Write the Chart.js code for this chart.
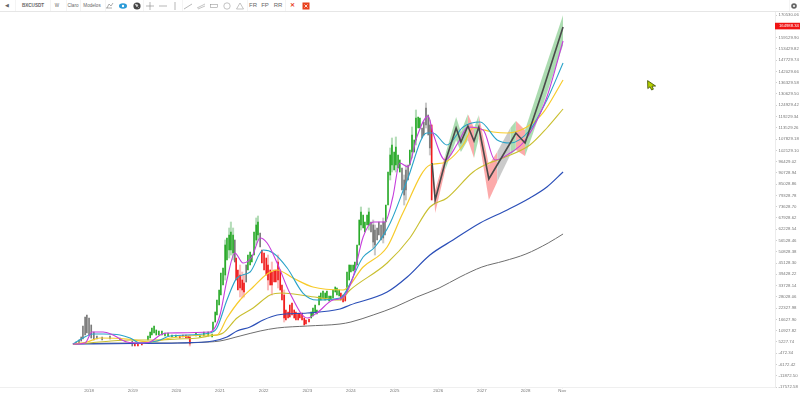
<!DOCTYPE html>
<html>
<head>
<meta charset="utf-8">
<title>BXCUSDT</title>
<script src="https://cdn.jsdelivr.net/npm/chart.js@4"></script>
<style>
  html, body { margin: 0; padding: 0; background: #fff; width: 800px; height: 394px; overflow: hidden; }
  #stage { position: relative; width: 800px; height: 394px; font-family: "Liberation Sans", Arial, sans-serif; }
  canvas { position: absolute; left: 0; top: 0; }
  #bar { position: absolute; left: 0; top: 0; width: 800px; height: 11px; border-bottom: 1px solid #e6e6e6; background: #fff; }
  #bar span, #bar svg { position: absolute; top: 0; line-height: 11px; white-space: nowrap; transform: translateX(-50%); color: #666; }
  #bar i { position: absolute; top: 0; width: 1px; height: 11px; background: #f4f4f4; }
  #cursor { position: absolute; left: 647px; top: 80px; }
</style>
</head>
<body>
<div id="stage">
  <canvas id="priceChart" width="800" height="394"></canvas>
  <div id="bar"></div>
  <svg id="cursor" width="10" height="11" viewBox="0 0 10 11">
    <path d="M0.6 0.6 L0.8 8.6 L3 6.8 L4.6 10 L6.4 9.2 L5 6.2 L8.6 6 Z" fill="#b4d000" stroke="#3c4a00" stroke-width="0.8"/>
  </svg>
</div>

<script>
// axis labels
const priceTicks = [-17572.58, -11872.50, -6172.42, -472.34, 5227.74, 10927.82, 16627.90, 22327.98, 28028.06,
  33728.14, 39428.22, 45128.30, 50828.38, 56528.46, 62228.54, 67928.62, 73628.70, 79328.78, 85028.86, 90728.94,
  96429.02, 102129.10, 107829.18, 113529.26, 119229.34, 124929.42, 130629.50, 136329.58, 142029.66, 147729.74,
  153429.82, 159129.90, 164829.98, 170530.06];
const yearTicks = [2018, 2019, 2020, 2021, 2022, 2023, 2024, 2025, 2026, 2027, 2028, 2028.84];
const yearLabels = ['2018', '2019', '2020', '2021', '2022', '2023', '2024', '2025', '2026', '2027', '2028', 'Nov'];
const lastPrice = 164988.34;

// moving averages
const grayYears = [2017.63, 2018.00, 2019.01, 2020.02, 2020.75, 2021.00, 2021.46, 2021.92, 2022.31, 2023.00, 2023.75, 2024.00, 2024.51, 2025.01, 2025.51, 2026.02, 2026.50, 2027.00, 2027.51, 2028.01, 2028.52, 2028.86];
const grayValues = [4170, 4430, 4680, 4680, 5190, 5700, 8220, 10750, 12270, 13280, 14290, 15300, 18850, 22890, 27950, 32480, 38080, 43100, 46160, 49700, 55260, 59820];

const blueYears = [2017.63, 2019.01, 2020.02, 2020.84, 2021.16, 2021.39, 2021.69, 2021.99, 2022.31, 2023.00, 2023.75, 2023.98, 2024.83, 2025.29, 2025.81, 2026.34, 2026.96, 2027.58, 2028.10, 2028.49, 2028.86];
const blueValues = [4170, 4430, 4680, 5690, 7720, 10750, 12770, 16320, 18850, 19860, 21880, 23900, 30480, 38070, 49190, 56780, 65380, 71960, 78030, 83590, 91170];

const oliveYears = [2017.63, 2018.00, 2018.50, 2019.01, 2019.51, 2020.02, 2020.50, 2020.75, 2021.07, 2021.39, 2021.76, 2022.15, 2022.42, 2023.00, 2023.75, 2023.98, 2024.83, 2025.35, 2025.81, 2026.20, 2026.80, 2027.12, 2027.48, 2028.10, 2028.49, 2028.86];
const oliveValues = [4170, 4680, 5690, 6200, 6200, 6710, 7210, 8220, 9740, 17330, 22390, 28960, 29970, 28450, 26430, 31490, 45150, 57790, 73470, 78030, 91170, 95220, 98260, 104830, 113430, 123040];

const yellowYears = [2017.63, 2017.95, 2018.25, 2018.87, 2019.40, 2019.86, 2020.77, 2020.93, 2021.16, 2021.46, 2021.76, 2022.08, 2022.31, 2022.67, 2023.13, 2023.82, 2024.28, 2024.83, 2025.19, 2025.81, 2026.11, 2026.57, 2026.80, 2027.26, 2027.58, 2028.03, 2028.40, 2028.86];
const yellowValues = [4170, 5190, 7210, 6710, 5190, 7210, 8730, 8730, 17330, 26430, 32990, 39590, 41610, 37560, 33010, 31490, 43120, 53240, 70440, 94720, 95730, 104830, 113430, 111400, 110900, 113930, 121020, 137710];

const cyanYears = [2017.63, 2017.86, 2018.09, 2018.32, 2018.71, 2018.94, 2019.17, 2019.56, 2019.86, 2020.77, 2020.93, 2021.16, 2021.39, 2021.69, 2021.99, 2022.22, 2022.54, 2022.90, 2023.22, 2023.75, 2024.28, 2024.55, 2024.90, 2025.29, 2025.74, 2025.88, 2026.20, 2026.57, 2026.96, 2027.35, 2027.65, 2028.10, 2028.49, 2028.86];
const cyanValues = [4170, 7210, 9240, 9240, 8730, 7210, 4680, 5690, 8220, 9740, 12270, 26430, 37560, 40590, 51720, 50200, 42620, 29970, 26430, 27440, 48180, 53240, 65380, 87130, 110900, 110900, 104830, 113930, 116460, 107360, 105840, 112420, 127590, 146310];

const magentaYears = [2017.63, 2017.91, 2018.07, 2018.32, 2018.55, 2018.87, 2019.17, 2019.40, 2019.63, 2019.79, 2020.77, 2021.00, 2021.16, 2021.34, 2021.53, 2021.73, 2021.92, 2022.08, 2022.31, 2022.60, 2023.00, 2023.22, 2023.59, 2023.80, 2024.05, 2024.28, 2024.51, 2024.78, 2024.96, 2025.12, 2025.31, 2025.51, 2025.77, 2025.88, 2026.16, 2026.45, 2026.68, 2027.03, 2027.30, 2027.65, 2027.94, 2028.17, 2028.49, 2028.86];
const magentaValues = [4170, 4680, 10250, 10250, 8730, 5190, 4680, 5190, 8730, 9740, 10250, 18850, 36550, 50200, 45150, 48180, 57790, 55260, 45150, 29970, 17330, 19860, 26430, 27440, 38070, 58300, 65880, 65880, 78530, 95730, 93700, 108880, 119500, 110900, 97250, 105840, 113930, 112420, 97250, 100780, 105840, 113430, 129110, 157430];

// thick path with its shaded band
const pathYears = [2025.86, 2025.93, 2026.16, 2026.41, 2026.52, 2026.68, 2026.82, 2026.93, 2027.16, 2027.35, 2027.65, 2027.78, 2027.99, 2028.40, 2028.86];
const pathValues = [95730, 77010, 96230, 113430, 106350, 114440, 106850, 113930, 87630, 94720, 105840, 110900, 105840, 132650, 164520];
const bandUpper = [95730, 82070, 99770, 119000, 111410, 120510, 113430, 120000, 94720, 101290, 113430, 116970, 112420, 140240, 170590];
const bandLower = [95730, 70440, 92190, 107360, 101290, 107360, 98260, 108380, 77010, 86120, 99770, 102300, 99270, 125060, 155410];
const bandTones = ['r', 'r', 'g', 'g', 'g', 'r', 'g', 'r', 'r', 'k', 'g', 'r', 'g', 'g'];

// candle bodies
const greenCandleYears = [2019.35, 2019.40, 2019.44, 2019.49, 2019.54, 2019.60, 2019.67, 2019.74, 2019.81, 2019.90, 2019.99, 2020.45, 2020.54, 2020.63, 2020.73, 2020.82, 2020.84, 2020.89, 2020.93, 2020.98, 2021.02, 2021.07, 2021.12, 2021.16, 2021.21, 2021.25, 2021.30, 2021.64, 2021.69, 2021.73, 2021.78, 2021.83, 2021.87, 2023.09, 2023.13, 2023.18, 2023.22, 2023.27, 2023.31, 2023.36, 2023.41, 2023.45, 2023.50, 2023.54, 2023.59, 2023.64, 2023.68, 2023.73, 2023.91, 2023.96, 2024.00, 2024.05, 2024.09, 2024.14, 2024.19, 2024.23, 2024.28, 2024.32, 2024.37, 2024.41, 2024.80, 2024.85, 2024.90, 2024.94, 2024.99, 2025.03, 2025.08, 2025.12, 2025.35, 2025.40, 2025.45, 2025.49, 2025.54, 2025.58];
const greenCandleTop = [8220, 10250, 12270, 13280, 11260, 10750, 10750, 9740, 9740, 8730, 8730, 9740, 8730, 10250, 10250, 9240, 15300, 20360, 26430, 31490, 40090, 42620, 54250, 57790, 59310, 60830, 59310, 49190, 50710, 49190, 60830, 64370, 65880, 20360, 22390, 23900, 21380, 28460, 29970, 30990, 29970, 30990, 28460, 28460, 31490, 33010, 32500, 31490, 40590, 44140, 44140, 44140, 45650, 54250, 66900, 70940, 69430, 65880, 69430, 70940, 74480, 91170, 99770, 104830, 101290, 103820, 99770, 97250, 102300, 109890, 107360, 118490, 118990, 118490];
const greenCandleBottom = [6200, 7210, 8730, 9740, 8730, 8730, 8730, 8220, 8220, 7720, 7720, 8220, 7720, 8220, 8220, 7720, 11260, 15300, 18850, 23900, 28960, 34020, 39080, 46660, 51720, 51720, 50200, 41610, 44140, 45650, 49190, 56780, 59310, 17330, 18340, 20360, 19360, 23900, 26430, 27440, 26430, 27440, 25930, 26430, 27440, 30480, 28960, 28460, 30480, 36550, 40590, 41100, 41610, 44140, 54250, 64370, 62850, 60830, 64370, 64370, 65880, 74480, 89660, 94720, 92190, 94720, 93200, 91170, 94720, 101290, 101290, 107360, 113430, 113430];

const redCandleYears = [2019.05, 2019.12, 2019.21, 2020.08, 2020.15, 2020.22, 2020.27, 2020.31, 2021.37, 2021.41, 2021.46, 2021.51, 2021.55, 2021.96, 2022.01, 2022.06, 2022.10, 2022.15, 2022.19, 2022.24, 2022.28, 2022.33, 2022.38, 2022.42, 2022.47, 2022.51, 2022.56, 2022.60, 2022.65, 2022.70, 2022.74, 2022.79, 2022.83, 2022.88, 2022.93, 2022.97, 2023.04, 2023.77, 2023.82, 2023.87, 2025.85];
const redCandleTop = [4170, 4170, 4170, 8220, 8730, 8730, 8220, 7720, 47670, 41610, 39080, 36550, 35030, 51720, 50200, 47670, 44140, 41610, 40590, 41610, 41610, 45650, 41610, 34020, 28960, 21380, 20360, 23900, 24910, 21380, 20360, 19860, 19860, 19860, 17330, 16320, 16820, 29970, 28960, 28960, 114950];
const redCandleBottom = [3170, 3170, 3660, 7210, 7720, 7210, 7210, 4170, 36550, 31490, 32500, 31490, 30480, 45150, 41610, 39080, 36550, 34020, 34020, 35530, 35530, 36550, 31490, 26430, 17330, 16320, 17330, 17830, 18850, 17330, 16320, 16320, 17330, 16320, 13790, 14290, 15300, 26430, 25420, 25930, 77010];

const grayCandleYears = [2017.70, 2017.77, 2017.82, 2017.86, 2017.91, 2017.95, 2018.00, 2018.05, 2018.11, 2018.18, 2018.30, 2018.48, 2018.71, 2018.99, 2021.34, 2021.60, 2021.92, 2024.46, 2024.51, 2024.55, 2024.60, 2024.64, 2024.69, 2024.74, 2024.78, 2025.17, 2025.22, 2025.26, 2025.31, 2025.63, 2025.67, 2025.72, 2025.77, 2025.81];
const grayCandleTop = [5190, 6200, 7720, 13290, 17830, 18850, 17330, 13790, 10250, 8220, 7720, 8220, 7210, 5690, 56780, 44140, 60320, 65880, 64370, 61840, 62850, 65880, 64370, 65880, 65880, 93200, 87130, 92190, 94720, 113430, 116460, 123550, 120000, 114950];
const grayCandleBottom = [4170, 4680, 5690, 6710, 8730, 9740, 8730, 7210, 6200, 6710, 6200, 6710, 6200, 3170, 45660, 35530, 53240, 60830, 55770, 54250, 56780, 59310, 56780, 57790, 59310, 82070, 79540, 82070, 87130, 108370, 109890, 114950, 109890, 103310];

// pale wicks
const greenWickYears = [2021.12, 2021.21, 2021.25, 2021.30, 2021.83, 2021.87, 2024.23, 2024.41, 2024.90, 2024.94, 2025.03, 2025.40, 2025.49];
const greenWickTop = [56780, 62850, 65880, 62850, 67910, 68920, 73470, 72960, 103310, 108370, 108880, 113930, 122540];
const greenWickBottom = [36550, 47670, 49190, 46660, 54250, 56780, 61840, 61840, 87130, 91170, 91170, 98260, 104830];

const redWickYears = [2020.31, 2021.46, 2021.51, 2021.55, 2022.10, 2022.19, 2022.33, 2022.47];
const redWickTop = [8730, 44140, 40590, 39080, 49190, 45650, 49190, 31490];
const redWickBottom = [3170, 27950, 27440, 27950, 31490, 28960, 32500, 15300];

const grayWickYears = [2024.51, 2024.55, 2024.74, 2025.22, 2025.26, 2025.72, 2025.81];
const grayWickTop = [66900, 64370, 67910, 89660, 94720, 126080, 117480];
const grayWickBottom = [52730, 49190, 55270, 74480, 77010, 113430, 99770];

// toolbar: label or icon, centre x
const toolbarItems = [
  ['◀', 7], ['BXCUSDT', 33, 'b'], ['W', 57], ['Claro', 73], ['Modelos', 92], ['FR', 253, 'm'], ['FP', 265, 'm'], ['RR', 278, 'm'], ['✕', 292, 'x']
];
const toolbarIcons = [
  [110, '<path d="M1 7h6M2 7l2-4 2 2 2-3" stroke="#777" fill="none" stroke-width=".6"/>'],
  [123, '<ellipse cx="5" cy="5" rx="4" ry="2.8" fill="#2a9bd8"/><circle cx="5" cy="5" r="1.2" fill="#fff"/>'],
  [137, '<circle cx="5" cy="5" r="3.6" fill="#444"/><path d="M3 3l3 1-1 2zM6 7l1-1" stroke="#ddd" fill="#ddd" stroke-width=".5"/>'],
  [150, '<path d="M5 1v8M1 5h8" stroke="#888" stroke-width=".6"/>'],
  [163, '<path d="M1 5h8" stroke="#888" stroke-width=".6"/>'],
  [175, '<path d="M5 1v8" stroke="#888" stroke-width=".6"/>'],
  [188, '<path d="M1 8L9 3" stroke="#888" stroke-width=".6"/>'],
  [201, '<path d="M1 7L9 3M2 8l7-3" stroke="#888" stroke-width=".5"/>'],
  [214, '<rect x="1.5" y="3.5" width="7" height="3" fill="none" stroke="#888" stroke-width=".5"/>'],
  [227, '<circle cx="5" cy="5" r="3.2" fill="none" stroke="#888" stroke-width=".5"/>'],
  [240, '<path d="M5 2l3.5 6h-7z" fill="none" stroke="#888" stroke-width=".5"/>'],
  [306, '<rect x="1.5" y="1.5" width="7" height="7" fill="#e8401c"/><path d="M3.5 3.5l3 3M6.5 3.5l-3 3" stroke="#fff" stroke-width=".8"/>'],
  [794, '<circle cx="5" cy="5" r="2.8" fill="#666"/><circle cx="5" cy="5" r="1" fill="#fff"/>']
];

function buildToolbar() {
  const bar = document.getElementById('bar');
  let html = '';
  [15, 50, 66, 80, 105, 143, 182, 247, 285, 789].forEach(function (x) {
    html += '<i style="left:' + x + 'px"></i>';
  });
  toolbarItems.forEach(function (item) {
    let style = 'font-size:4.6px;';
    if (item[2] === 'b') style = 'font-size:4.6px;font-weight:bold;';
    if (item[2] === 'm') style = 'font-size:6px;';
    if (item[2] === 'x') style = 'font-size:6px;font-weight:bold;color:#e8401c;';
    html += '<span style="left:' + item[1] + 'px;' + style + '">' + item[0] + '</span>';
  });
  toolbarIcons.forEach(function (icon) {
    html += '<svg width="10" height="10" viewBox="0 0 10 10" style="left:' + icon[0] + 'px;top:1px">' + icon[1] + '</svg>';
  });
  bar.innerHTML = html;
}

function points(xs, ys) {
  return xs.map(function (x, i) { return { x: x, y: ys[i] }; });
}

function ranges(xs, tops, bottoms) {
  return xs.map(function (x, i) { return { x: x, y: [bottoms[i], tops[i]] }; });
}

function lineSet(label, xs, ys, color, width, order) {
  return {
    type: 'line', label: label, data: points(xs, ys), borderColor: color, borderWidth: width,
    pointRadius: 0, cubicInterpolationMode: 'monotone', fill: false, order: order
  };
}

function barSet(label, xs, tops, bottoms, color, thickness, order) {
  return {
    type: 'bar', label: label, data: ranges(xs, tops, bottoms), backgroundColor: color,
    barThickness: thickness, grouped: false, order: order
  };
}

const toneColors = { r: 'rgba(250,100,100,0.55)', g: 'rgba(90,185,100,0.5)', k: 'rgba(150,150,150,0.5)' };

const lastPriceTag = {
  id: 'lastPriceTag',
  afterDraw: function (chart) {
    const ctx = chart.ctx;
    const y = chart.scales.y.getPixelForValue(lastPrice);
    ctx.save();
    ctx.fillStyle = '#f01414';
    ctx.fillRect(775, y - 3.3, 25, 6.6);
    ctx.fillStyle = '#fff';
    ctx.font = '4.2px "Liberation Sans"';
    ctx.textBaseline = 'middle';
    ctx.fillText(lastPrice.toFixed(2), 779, y + 0.2);
    ctx.restore();
  }
};

function drawChart() {
  const ctx = document.getElementById('priceChart').getContext('2d');

  const pathSet = lineSet('Path', pathYears, pathValues, '#4a4a4a', 1.6, 0);
  pathSet.cubicInterpolationMode = 'default';
  pathSet.tension = 0;

  const config = {
    type: 'line',
    data: {
      datasets: [
        pathSet,
        lineSet('Magenta', magentaYears, magentaValues, '#c63ddc', 1.1, 1),
        lineSet('Cyan', cyanYears, cyanValues, '#2aa3c9', 1.1, 2),
        lineSet('Yellow', yellowYears, yellowValues, '#f7cb2c', 1.2, 3),
        lineSet('Olive', oliveYears, oliveValues, '#c9bf30', 1.1, 4),
        lineSet('Blue', blueYears, blueValues, '#2b4fb8', 1.2, 5),
        lineSet('Gray', grayYears, grayValues, '#6e6e6e', 1, 6),
        barSet('Green', greenCandleYears, greenCandleTop, greenCandleBottom, '#2aaa2a', 1, 7),
        barSet('Red', redCandleYears, redCandleTop, redCandleBottom, '#f01c1c', 1, 7),
        barSet('Gray candles', grayCandleYears, grayCandleTop, grayCandleBottom, '#7a7a7a', 1, 7),
        barSet('Green wicks', greenWickYears, greenWickTop, greenWickBottom, 'rgba(70,170,80,0.4)', 1.4, 8),
        barSet('Red wicks', redWickYears, redWickTop, redWickBottom, 'rgba(245,90,90,0.4)', 1.4, 8),
        barSet('Gray wicks', grayWickYears, grayWickTop, grayWickBottom, 'rgba(120,120,120,0.4)', 1.4, 8),
        {
          type: 'line', label: 'Band top', data: points(pathYears, bandUpper), borderWidth: 0, pointRadius: 0,
          fill: '+1', order: 9,
          segment: {
            backgroundColor: function (c) { return toneColors[bandTones[c.p0DataIndex]]; }
          }
        },
        {
          type: 'line', label: 'Band bottom', data: points(pathYears, bandLower), borderWidth: 0, pointRadius: 0,
          fill: false, order: 9
        }
      ]
    },
    options: {
      responsive: false,
      animation: false,
      layout: { padding: { top: 12, left: 0, right: 0, bottom: 0 } },
      plugins: { legend: { display: false }, tooltip: { enabled: false } },
      scales: {
        x: {
          type: 'linear',
          offset: false,
          min: 2015.96,
          max: 2033.716,
          afterBuildTicks: function (axis) {
            axis.ticks = yearTicks.map(function (v) { return { value: v }; });
          },
          afterFit: function (axis) { axis.height = 7; },
          grid: { display: true, drawOnChartArea: false, offset: false, tickLength: 1.5, color: '#e2e2e2' },
          border: { color: '#efefef' },
          ticks: {
            autoSkip: false, maxRotation: 0, padding: 0, color: '#777',
            font: { size: 4.4, family: 'Liberation Sans' },
            callback: function (v) { return yearLabels[yearTicks.indexOf(v)]; }
          }
        },
        y: {
          position: 'right',
          min: -17572.58,
          max: 172103,
          afterBuildTicks: function (axis) {
            axis.ticks = priceTicks.map(function (v) { return { value: v }; });
          },
          afterFit: function (axis) { axis.width = 25; },
          grid: { display: true, drawOnChartArea: false, tickLength: 2, color: '#cfcfcf' },
          border: { color: '#ececec' },
          ticks: {
            autoSkip: false, padding: 1.5, color: '#777',
            font: { size: 4.3, family: 'Liberation Sans' },
            callback: function (v) { return v.toFixed(2); }
          }
        }
      }
    },
    plugins: [lastPriceTag]
  };

  new Chart(ctx, config);
}

buildToolbar();
drawChart();
</script>
</body>
</html>
